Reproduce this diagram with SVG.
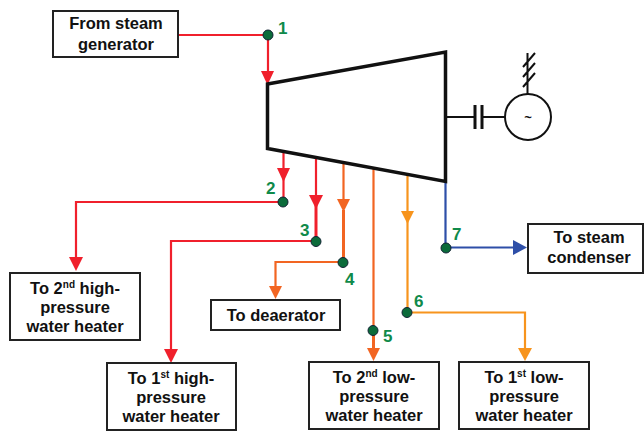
<svg xmlns="http://www.w3.org/2000/svg" width="644" height="431" viewBox="0 0 644 431">
<style>
.box{fill:#fff;stroke:#222;stroke-width:2}
.t{font-family:"Liberation Sans",Arial,sans-serif;font-weight:700;font-size:16.500px;fill:#111;text-anchor:middle}
.sup{font-size:10px}
.n{font-family:"Liberation Sans",Arial,sans-serif;font-weight:700;font-size:17px;fill:#0f8a4a}
.dot{fill:#0b6b3a;stroke:#123;stroke-width:1}
.k{fill:none;stroke:#111;stroke-width:2}
.red{fill:none;stroke:#f0202c;stroke-width:2.200}
.ora{fill:none;stroke:#f26522;stroke-width:2.200}
.yel{fill:none;stroke:#f7941d;stroke-width:2.200}
</style>
<rect width="644" height="431" fill="#fff"/>
<g id="connectors">
<path class="red" d="M178 35H268V74"/>
<path class="red" d="M283.500 151V202H76V260"/>
<path class="red" d="M316 158V195"/>
<path class="red" style="stroke-width:3" d="M316 205V241"/>
<path class="red" d="M316 241H171V352"/>
<path class="ora" d="M343.500 162V200"/>
<path class="ora" style="stroke-width:3" d="M343.500 210V262"/>
<path class="ora" d="M343.500 262H275.500V288"/>
<path class="ora" d="M373.500 168V330"/>
<path class="ora" style="stroke-width:3" d="M373.500 330V350"/>
<path class="yel" d="M407.500 174V312.500H525V350"/>
<path d="M445.500 182V247.500H515" stroke="#2e4fa8" fill="none" stroke-width="2.200"/>
<g fill="#f0202c">
<path d="M261 71H274L267.500 85Z"/>
<path d="M277 168H290L283.500 182Z"/>
<path d="M309 195H323L316 209Z"/>
<path d="M69 257H83L76 271Z"/>
<path d="M164 349H178L171 363Z"/>
</g>
<g fill="#f26522">
<path d="M337 199H350L343.500 212Z"/>
<path d="M269 286H282L275.500 299Z"/>
<path d="M367 348H380L373.500 361Z"/>
</g>
<g fill="#f7941d">
<path d="M401 211H414L407.500 224Z"/>
<path d="M518 348H532L525 361Z"/>
</g>
<path d="M513 240L527 247.500L513 255Z" fill="#2e4fa8"/>
</g>
<g id="turbine"><path d="M267.500 84L445.500 52V181.500L267.500 148.500Z" fill="#fff" stroke="#111" stroke-width="3.500"/></g>
<g id="generator">
<path class="k" d="M446 117H475M482 117H505M527.500 94V53M523 67L535 53M523 77L535 63M523 87L535 73"/>
<path d="M475 105V129M482 105V129" fill="none" stroke="#111" stroke-width="3"/>
<circle cx="528" cy="117" r="23" fill="#fff" stroke="#111" stroke-width="2"/>
<text x="528" y="122" class="t" style="font-size:13px">~</text>
</g>
<g id="points">
<circle class="dot" cx="268" cy="35" r="5"/><text class="n" x="278" y="34">1</text>
<circle class="dot" cx="283" cy="202" r="5"/><text class="n" x="266" y="194">2</text>
<circle class="dot" cx="316" cy="241.500" r="5"/><text class="n" x="300" y="236">3</text>
<circle class="dot" cx="343" cy="262.500" r="5"/><text class="n" x="345" y="285">4</text>
<circle class="dot" cx="373" cy="330.500" r="5"/><text class="n" x="383" y="342">5</text>
<circle class="dot" cx="407" cy="312.500" r="5"/><text class="n" x="414" y="307">6</text>
<circle class="dot" cx="446" cy="248" r="5"/><text class="n" x="452" y="240">7</text>
</g>
<g id="from-steam-generator"><rect class="box" x="53" y="11" width="125" height="46"/><text class="t" x="116" y="29">From steam</text><text class="t" x="116" y="50">generator</text></g>
<g id="to-2nd-hp"><rect class="box" x="10" y="273" width="130" height="67"/><text class="t" x="75" y="294">To 2<tspan class="sup" dy="-6">nd</tspan><tspan dy="6"> high-</tspan></text><text class="t" x="75" y="313">pressure</text><text class="t" x="75" y="332">water heater</text></g>
<g id="to-1st-hp"><rect class="box" x="107" y="363" width="129" height="67"/><text class="t" x="171" y="384">To 1<tspan class="sup" dy="-6">st</tspan><tspan dy="6"> high-</tspan></text><text class="t" x="171" y="403">pressure</text><text class="t" x="171" y="422">water heater</text></g>
<g id="to-deaerator"><rect class="box" x="211" y="300" width="129" height="30"/><text class="t" x="276" y="321">To deaerator</text></g>
<g id="to-2nd-lp"><rect class="box" x="309" y="362" width="130" height="67"/><text class="t" x="374" y="383">To 2<tspan class="sup" dy="-6">nd</tspan><tspan dy="6"> low-</tspan></text><text class="t" x="374" y="402">pressure</text><text class="t" x="374" y="421">water heater</text></g>
<g id="to-1st-lp"><rect class="box" x="459" y="362" width="130" height="67"/><text class="t" x="524" y="383">To 1<tspan class="sup" dy="-6">st</tspan><tspan dy="6"> low-</tspan></text><text class="t" x="524" y="402">pressure</text><text class="t" x="524" y="421">water heater</text></g>
<g id="to-steam-condenser"><rect class="box" x="528" y="224" width="115" height="49"/><text class="t" x="589" y="243">To steam</text><text class="t" x="589" y="263">condenser</text></g>
</svg>
